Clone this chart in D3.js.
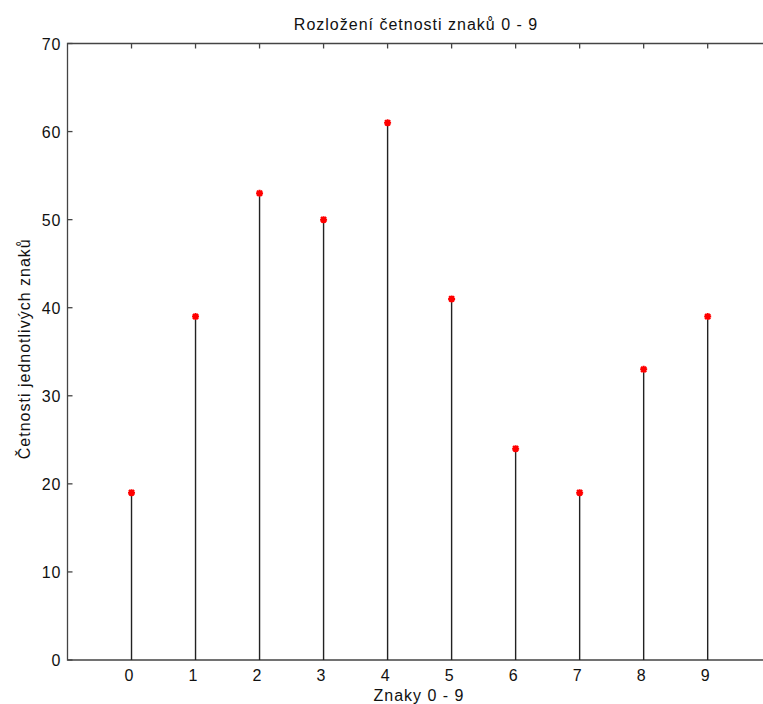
<!DOCTYPE html>
<html>
<head>
<meta charset="utf-8">
<script src="https://cdn.jsdelivr.net/npm/d3@7"></script>
<style>
  body { margin: 0; background: #fff; }
  text { font-family: "Liberation Sans", Arial, sans-serif; font-size: 16px; letter-spacing: 1px; fill: #111; }
</style>
</head>
<body>
<div id="chart"></div>
<script>
// stem data
const znaky = [0, 1, 2, 3, 4, 5, 6, 7, 8, 9];
const cetnosti = [19, 39, 53, 50, 61, 41, 24, 19, 33, 39];
const yTicks = [0, 10, 20, 30, 40, 50, 60, 70];

const width = 763, height = 704;
const margin = { top: 43.5, left: 67.5, bottom: 44 };
const plotRight = 771.7; // axes box runs past the window edge

const svg = d3.select("#chart").append("svg")
  .attr("width", width)
  .attr("height", height);

const x = d3.scaleLinear().domain([-1, 10]).range([margin.left, plotRight]);
const y = d3.scaleLinear().domain([0, 70]).range([height - margin.bottom, margin.top]);

const axisColor = "#444";

// box (top + left + bottom)
svg.append("path")
  .attr("d", `M${plotRight},${y(70)} H${x(-1)} V${y(0)} H${plotRight}`)
  .attr("fill", "none")
  .attr("stroke", axisColor)
  .attr("stroke-width", 1.3);

// top ticks pointing in
svg.selectAll("line.ttick").data(znaky).enter().append("line")
  .attr("class", "ttick")
  .attr("x1", d => x(d)).attr("x2", d => x(d))
  .attr("y1", y(70)).attr("y2", y(70) + 5)
  .attr("stroke", axisColor).attr("stroke-width", 1.3);

// left ticks pointing in
svg.selectAll("line.ltick").data(yTicks).enter().append("line")
  .attr("class", "ltick")
  .attr("x1", x(-1)).attr("x2", x(-1) + 5)
  .attr("y1", d => y(d)).attr("y2", d => y(d))
  .attr("stroke", axisColor).attr("stroke-width", 1.3);

// tick labels
svg.selectAll("text.xl").data(znaky).enter().append("text")
  .attr("class", "xl")
  .attr("x", d => x(d) - 2)
  .attr("y", y(0) + 21)
  .attr("text-anchor", "middle")
  .text(d => d);

svg.selectAll("text.yl").data(yTicks).enter().append("text")
  .attr("class", "yl")
  .attr("x", x(-1) - 6)
  .attr("y", d => y(d) + 6)
  .attr("text-anchor", "end")
  .text(d => d);

// stems
svg.selectAll("line.stem").data(znaky).enter().append("line")
  .attr("class", "stem")
  .attr("x1", d => x(d)).attr("x2", d => x(d))
  .attr("y1", y(0)).attr("y2", (d, i) => y(cetnosti[i]))
  .attr("stroke", "#222").attr("stroke-width", 1.4);

// red '*' markers
const star = "M-3.5,0H3.5M0,-3.5V3.5M-2.6,-2.6L2.6,2.6M-2.6,2.6L2.6,-2.6";
svg.selectAll("path.mk").data(znaky).enter().append("path")
  .attr("class", "mk")
  .attr("transform", (d, i) => `translate(${x(d)},${y(cetnosti[i])})`)
  .attr("d", star)
  .attr("stroke", "red")
  .attr("stroke-width", 2);

// titles
svg.append("text")
  .attr("x", 416).attr("y", 30)
  .attr("text-anchor", "middle")
  .text("Rozložení četnosti znaků 0 - 9");

svg.append("text")
  .attr("x", 419).attr("y", 701)
  .attr("text-anchor", "middle")
  .text("Znaky 0 - 9");

svg.append("text")
  .attr("transform", `translate(30,${(y(0) + y(70)) / 2 - 3}) rotate(-90)`)
  .attr("text-anchor", "middle")
  .text("Četnosti jednotlivých znaků");
</script>
</body>
</html>
